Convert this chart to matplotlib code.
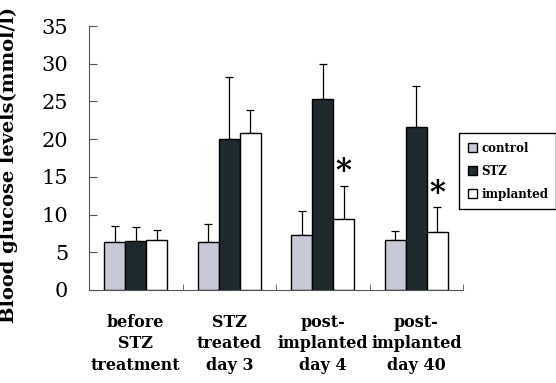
import numpy as np
import matplotlib.pyplot as plt
from matplotlib.patches import Patch

groups = ["before\nSTZ\ntreatment", "STZ\ntreated\nday 3", "post-\nimplanted\nday 4", "post-\nimplanted\nday 40"]
control = [6.3, 6.3, 7.3, 6.6]
control_err = [2.2, 2.45, 3.2, 1.2]
stz = [6.5, 20.0, 25.3, 21.6]
stz_err = [1.9, 8.2, 4.7, 5.5]
implanted = [6.6, 20.8, 9.4, 7.7]
implanted_err = [1.3, 3.0, 4.4, 3.3]
stars = [False, False, True, True]

plt.rcParams['font.family'] = ['DejaVu Serif']

fig = plt.figure(figsize=(5.56, 3.83), dpi=100)
ax = fig.add_axes([0.160, 0.243, 0.673, 0.689])

x = np.arange(len(groups))
w = 0.225
series = [(control, control_err, "#c7cad6", "control"),
          (stz, stz_err, "#1e2a2d", "STZ"),
          (implanted, implanted_err, "white", "implanted")]
handles = []
for i, (vals, errs, col, name) in enumerate(series):
    pos = x + (i - 1) * w
    ax.bar(pos, vals, w, color=col, edgecolor="black", linewidth=1.0, zorder=2)
    ax.errorbar(pos, vals, yerr=[np.zeros(len(errs)), errs], fmt="none",
                ecolor="black", elinewidth=0.9, capsize=3, capthick=0.9, zorder=1)
    handles.append(Patch(facecolor=col, edgecolor="black", label=name))

for xi, s in enumerate(stars):
    if s:
        ax.text(xi + w, implanted[xi] + implanted_err[xi] - 0.2, "*",
                ha="center", va="bottom", fontsize=22, fontweight="bold")

ax.set_xlim(-0.5, 3.5)
ax.set_ylim(0, 35)
ax.set_yticks(np.arange(0, 36, 5))
ax.tick_params(axis="y", direction="in", length=6, pad=15, labelsize=15, colors="#555", labelcolor="black")
ax.set_xticks(x)
ax.set_xticklabels(groups, fontsize=11.5, fontweight="bold", linespacing=1.35)
ax.tick_params(axis="x", length=0, pad=17)
ax.set_xticks([0.5, 1.5, 2.5, 3.5], minor=True)
ax.tick_params(axis="x", which="minor", direction="in", length=4, colors="#555")
for sp in ["top", "right"]:
    ax.spines[sp].set_visible(False)
ax.spines["left"].set_color("#555")
ax.spines["bottom"].set_color("#555")
ax.set_ylabel("Blood glucose levels(mmol/l)", fontsize=14, fontweight="bold")
ax.yaxis.set_label_coords(-0.19, 0.475)

fig.legend(handles=handles, loc="upper left", bbox_to_anchor=(0.826, 0.652),
           borderaxespad=0, frameon=True, fancybox=False, edgecolor="black", framealpha=1,
           prop={"weight": "bold", "size": 8.5}, handlelength=0.8, handleheight=0.8,
           handletextpad=0.35, labelspacing=0.85, borderpad=0.7)

fig.savefig("out.png", dpi=100)
